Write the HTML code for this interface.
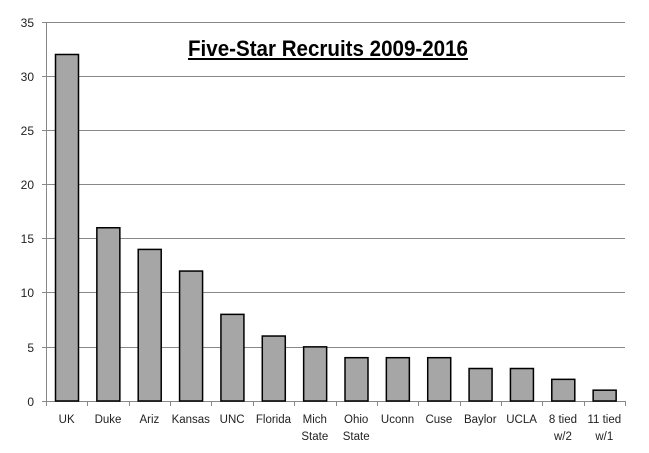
<!DOCTYPE html>
<html><head><meta charset="utf-8"><style>body{margin:0;background:#fff}svg{display:block}</style></head>
<body>
<svg width="649" height="453" viewBox="0 0 649 453" xmlns="http://www.w3.org/2000/svg" font-family="Liberation Sans, sans-serif">
<rect width="649" height="453" fill="#fff"/>
<g stroke="#888" stroke-width="1">
<line x1="46" y1="22.5" x2="625" y2="22.5"/>
<line x1="46" y1="76.5" x2="625" y2="76.5"/>
<line x1="46" y1="130.5" x2="625" y2="130.5"/>
<line x1="46" y1="184.5" x2="625" y2="184.5"/>
<line x1="46" y1="238.5" x2="625" y2="238.5"/>
<line x1="46" y1="292.5" x2="625" y2="292.5"/>
<line x1="46" y1="347.5" x2="625" y2="347.5"/>
<line x1="46.5" y1="22" x2="46.5" y2="401"/>
<line x1="46" y1="401.5" x2="625" y2="401.5"/>
<line x1="42" y1="22.5" x2="46" y2="22.5"/><line x1="42" y1="76.5" x2="46" y2="76.5"/><line x1="42" y1="130.5" x2="46" y2="130.5"/><line x1="42" y1="184.5" x2="46" y2="184.5"/><line x1="42" y1="238.5" x2="46" y2="238.5"/><line x1="42" y1="292.5" x2="46" y2="292.5"/><line x1="42" y1="347.5" x2="46" y2="347.5"/><line x1="42" y1="401.5" x2="46" y2="401.5"/>
</g>
<g id="ticks" stroke="#888"></g>
<g font-size="12" fill="#222" text-anchor="end">
<text x="34" y="27">35</text><text x="34" y="81">30</text><text x="34" y="135">25</text><text x="34" y="189">20</text><text x="34" y="243">15</text><text x="34" y="297">10</text><text x="34" y="352">5</text><text x="34" y="406">0</text>
</g>
<g id="bars" fill="#a6a6a6" stroke="#000" stroke-width="1.5"></g>
<g id="labels" font-size="11.5" fill="#222" text-anchor="middle"></g>
<text x="328" y="56" font-size="22" font-weight="bold" fill="#000" text-anchor="middle" textLength="280" lengthAdjust="spacingAndGlyphs">Five-Star Recruits 2009-2016</text>
<line x1="188" y1="59" x2="468" y2="59" stroke="#000" stroke-width="2"/>
<script>
var d=[["UK",32],["Duke",16],["Ariz",14],["Kansas",12],["UNC",8],["Florida",6],["Mich|State",5],["Ohio|State",4],["Uconn",4],["Cuse",4],["Baylor",3],["UCLA",3],["8 tied|w/2",2],["11 tied|w/1",1]];
var ns="http://www.w3.org/2000/svg",w=579/14,u=379/35;
function el(t,a,p){var e=document.createElementNS(ns,t);for(var k in a)e.setAttribute(k,a[k]);document.getElementById(p).appendChild(e);return e;}
for(var i=0;i<=14;i++){var x=Math.round(46+i*w)+0.5;el("line",{x1:x,y1:401,x2:x,y2:406},"ticks");}
d.forEach(function(c,i){var x0=46+i*w+9.5,h=c[1]*u;el("rect",{x:x0,y:401-h,width:23,height:h},"bars");
var L=c[0].split("|");L.forEach(function(s,j){var t=el("text",{x:46+i*w+w/2,y:423+j*17},"labels");t.textContent=s;});});
</script>
</svg>
</body></html>
